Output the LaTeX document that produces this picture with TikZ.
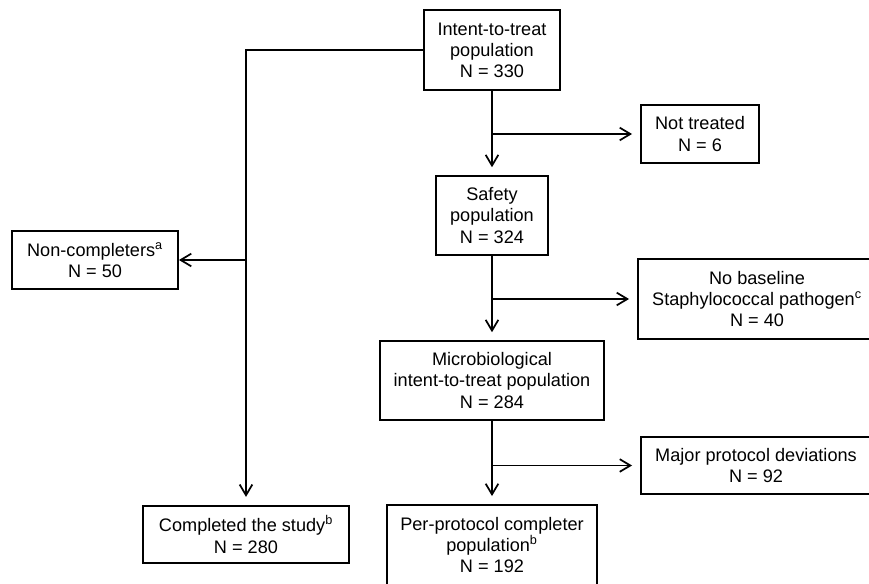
\documentclass[tikz,border=0pt]{standalone}
\usepackage{fontspec}
\setmainfont{Liberation Sans}
\usepackage{tikz}
\usetikzlibrary{arrows.meta}

\begin{document}
\begin{tikzpicture}[x=0.75pt,y=-0.75pt,line width=1.4pt,
   font=\fontsize{13.6}{15.8}\selectfont,
   box/.style={draw,align=center,inner sep=0pt,minimum width=#1},
   arr/.style={-{Straight Barb[length=8pt,width=9.5pt,line width=1.3pt]},shorten >=6pt}]
\useasboundingbox (0,0) rectangle (869,584);
\clip (0,0) rectangle (869,584);
% main column
\node[box=102pt,minimum height=60pt] (itt) at (492,50) {Intent-to-treat\\population\\N = 330};
\node[box=84pt,minimum height=59pt] (safety) at (492,215.5) {Safety\\population\\N = 324};
\node[box=168pt,minimum height=59pt] (micro) at (492,380.5) {Microbiological\\intent-to-treat population\\N = 284};
\node[box=158pt,minimum height=60pt] (pp) at (492,545) {Per-protocol completer\\population\textsuperscript{b}\\N = 192};
% exclusions on the right
\node[box=88.5pt,minimum height=43.5pt] (nottr) at (700,134) {Not treated\\N = 6};
\node[box=178.5pt,minimum height=60pt] (nobase) at (757,299) {No baseline\\Staphylococcal pathogen\textsuperscript{c}\\N = 40};
\node[box=172.5pt,minimum height=43pt] (major) at (756,465.5) {Major protocol deviations\\N = 92};
% study completion branch
\node[box=124.5pt,minimum height=43.5pt] (noncomp) at (95,260) {Non-completers\textsuperscript{a}\\N = 50};
\node[box=154pt,minimum height=43pt] (compl) at (246,534.5) {Completed the study\textsuperscript{b}\\N = 280};
% connectors
\draw[arr] (itt.south) -- (safety.north);
\draw[arr] (safety.south) -- (micro.north);
\draw[arr] (micro.south) -- (pp.north);
\draw[arr] (itt.south |- nottr.west) -- (nottr.west);
\draw[arr] (safety.south |- nobase.west) -- (nobase.west);
\draw[arr] (micro.south |- major.west) -- (major.west);
\draw[arr] (itt.west) -| (compl.north);
\coordinate (split) at (compl.north |- noncomp.east);
\draw[arr,shorten >=0pt] (split) -- (noncomp.east);
\end{tikzpicture}
\end{document}
